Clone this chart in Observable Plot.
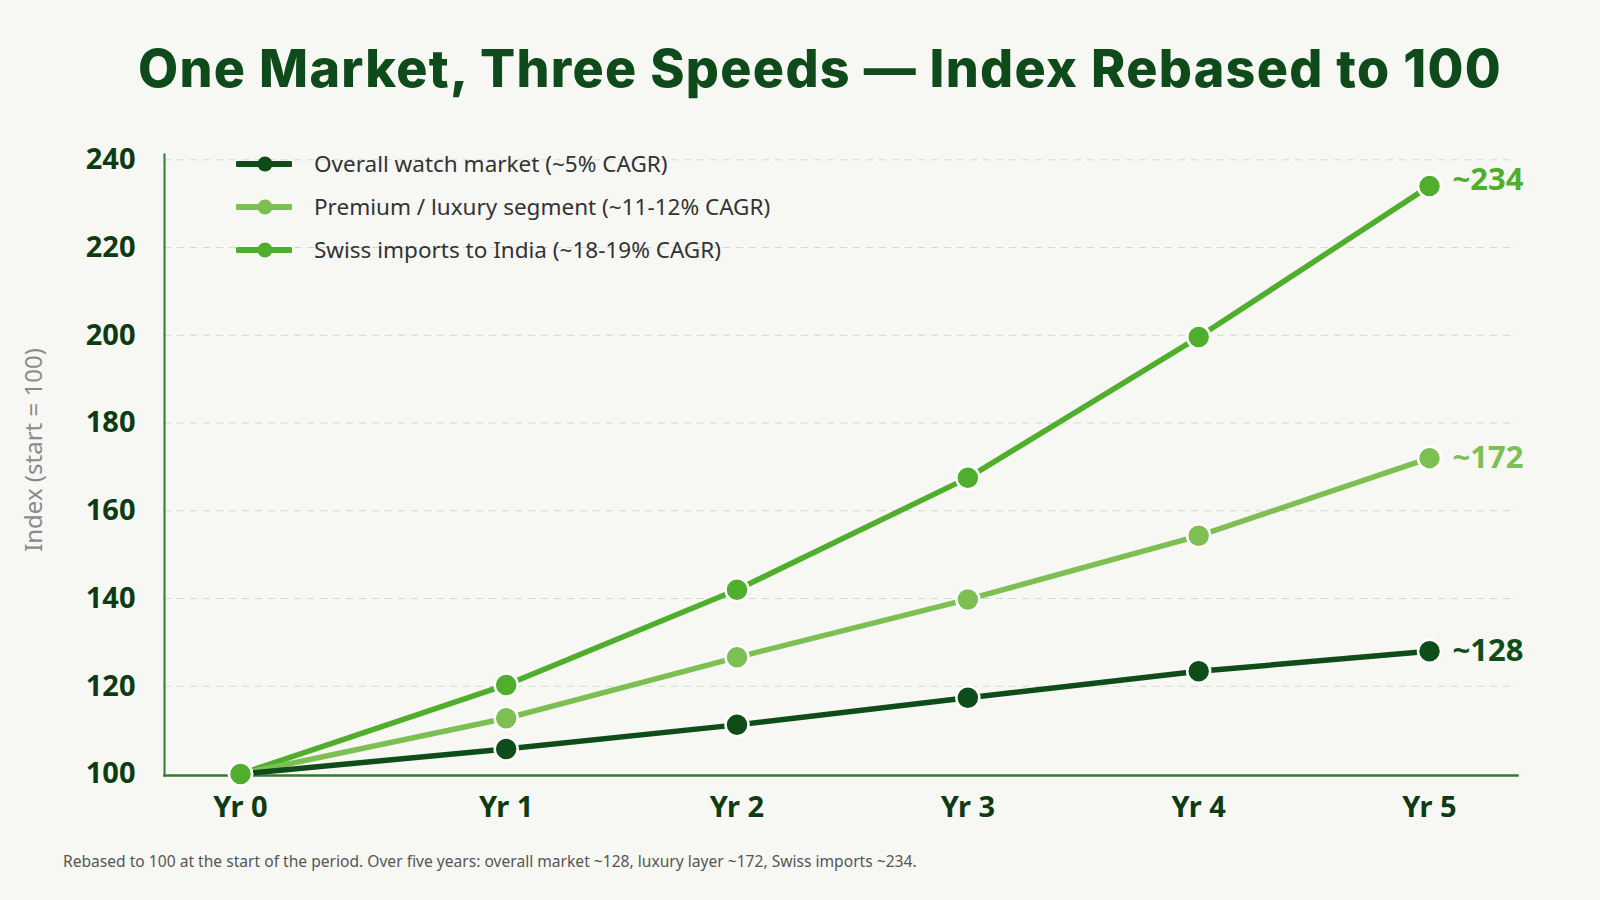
<!DOCTYPE html>
<html>
<head>
<meta charset="utf-8">
<script src="https://cdn.jsdelivr.net/npm/d3@7"></script>
<script src="https://cdn.jsdelivr.net/npm/@observablehq/plot@0.6"></script>
<style>
  html, body { margin: 0; padding: 0; }
  body {
    width: 1600px; height: 900px; position: relative; overflow: hidden;
    background: #f7f8f3; font-family: "Noto Sans", "Open Sans", sans-serif;
  }
  #title {
    position: absolute; top: 34px; left: 20px; width: 1600px; text-align: center;
    font-family: Inter, "Noto Sans", sans-serif; font-weight: 800; font-size: 52px;
    line-height: 70px; color: #0f4a1a; letter-spacing: 1.3px; margin: 0;
  }
  #chart { position: absolute; top: 130px; left: 0; }
  #legend { position: absolute; top: 142px; left: 236px; }
  .row { display: flex; align-items: center; height: 43px; }
  .row svg { margin-right: 22px; }
  .row span { font-size: 22.5px; color: #333; white-space: nowrap; }
  #caption {
    position: absolute; top: 850px; left: 63px; font-size: 15.6px; color: #555;
    white-space: nowrap;
  }
</style>
</head>
<body>
<div id="title">One Market, Three Speeds — Index Rebased to 100</div>
<div id="chart"></div>
<div id="legend"></div>
<div id="caption">Rebased to 100 at the start of the period. Over five years: overall market ~128, luxury layer ~172, Swiss imports ~234.</div>
<script>
// Period labels along the x axis
const years = ["Yr 0", "Yr 1", "Yr 2", "Yr 3", "Yr 4", "Yr 5"];

// Series names and colours
const seriesNames = [
  "Overall watch market (~5% CAGR)",
  "Premium / luxury segment (~11-12% CAGR)",
  "Swiss imports to India (~18-19% CAGR)"
];
const seriesColors = ["#0e4d19", "#7dbf52", "#4fae2c"];

// Index values, start = 100
const overall = [100, 105.7, 111.2, 117.4, 123.4, 128];
const premium = [100, 112.7, 126.6, 139.8, 154.3, 172];
const swiss   = [100, 120.3, 142.0, 167.5, 199.6, 234];

// End-of-period labels
const endLabels = ["~128", "~172", "~234"];

// Y-axis ticks
const yTicks = [100, 120, 140, 160, 180, 200, 220, 240];

const seriesValues = [overall, premium, swiss];
const rows = seriesValues.flatMap((vals, s) =>
  vals.map((v, i) => ({series: seriesNames[s], i, value: v}))
);
const lastRows = seriesValues.map((vals, s) => ({
  series: seriesNames[s], i: vals.length - 1, value: vals[vals.length - 1], label: endLabels[s]
}));

const axisGreen = "#2f7d32";
const tickInk = "#0d3b12";
const endLabelStyle = {x: "i", y: "value", text: "label", fill: "series", dx: 23,
  textAnchor: "start", fontSize: 31, fontWeight: 700};

const chart = Plot.plot({
  width: 1600,
  height: 700,
  marginLeft: 164,
  marginRight: 83,
  marginTop: 24,
  marginBottom: 55,
  style: {background: "transparent", fontFamily: "'Noto Sans', 'Open Sans', sans-serif", overflow: "visible"},
  // the first period gets a little extra room from the y axis
  x: {type: "linear", domain: [0, 1, 5], range: [240, 505.7, 1429]},
  y: {domain: [100, 240], insetTop: 5.3, insetBottom: 1.5},
  color: {domain: seriesNames, range: seriesColors},
  marks: [
    Plot.gridY(yTicks.filter(d => d > 100), {stroke: "#d6d7d0", strokeOpacity: 1, strokeDasharray: "7,6"}),
    Plot.frame({anchor: "left", stroke: axisGreen, strokeWidth: 2}),
    Plot.frame({anchor: "bottom", stroke: axisGreen, strokeWidth: 2.5}),
    Plot.axisY({ticks: yTicks, tickSize: 0, tickPadding: 29, fontSize: 29, fontWeight: 700, color: tickInk, label: null}),
    Plot.axisX({ticks: d3.range(years.length), tickFormat: i => years[i], tickSize: 0, tickPadding: 21,
      fontSize: 29, fontWeight: 700, color: tickInk, label: null}),
    Plot.text(["Index (start = 100)"], {frameAnchor: "left", textAnchor: "middle", dx: -130, dy: -15, rotate: -90,
      fontSize: 24, fill: "#8a8a8a", letterSpacing: "1px"}),
    // lines, drawn with the steepest first so the dark line sits on top near the origin
    ...[2, 1, 0].map(s => Plot.line(rows.filter(d => d.series === seriesNames[s]),
      {x: "i", y: "value", stroke: "series", strokeWidth: 5.5, strokeLinecap: "round"})),
    ...[0, 1, 2].map(s => Plot.dot(rows.filter(d => d.series === seriesNames[s]),
      {x: "i", y: "value", fill: "series", r: 11.5, stroke: "white", strokeWidth: 2.5})),
    Plot.text(lastRows.slice(0, 2), endLabelStyle),
    Plot.text(lastRows.slice(2), {...endLabelStyle, dy: -6})
  ]
});
document.getElementById("chart").appendChild(chart);

// Legend: line-with-dot swatch and label per series
const legend = d3.select("#legend");
seriesNames.forEach((name, s) => {
  const row = legend.append("div").attr("class", "row");
  const sw = row.append("svg").attr("width", 56).attr("height", 20);
  sw.append("line").attr("x1", 2).attr("x2", 54).attr("y1", 10).attr("y2", 10)
    .attr("stroke", seriesColors[s]).attr("stroke-width", 6).attr("stroke-linecap", "round");
  sw.append("circle").attr("cx", 29).attr("cy", 10).attr("r", 7.5).attr("fill", seriesColors[s]);
  row.append("span").text(name);
});
</script>
</body>
</html>
